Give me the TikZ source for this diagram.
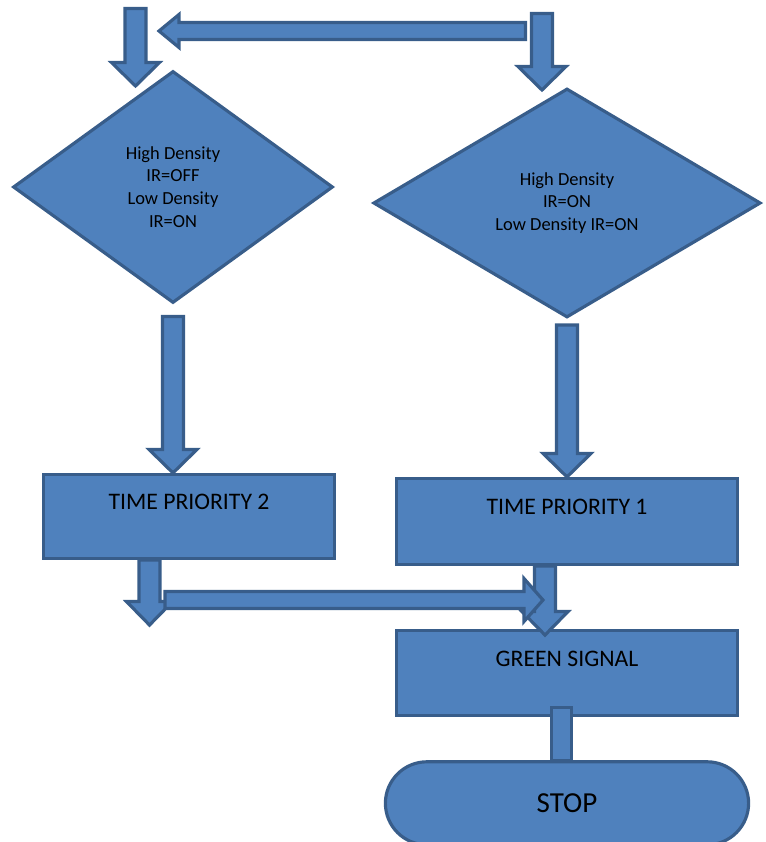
\documentclass[tikz,border=0pt]{standalone}
\usepackage{fontspec}
\setmainfont{Carlito}
\usepackage{xcolor}
\usepackage{tikz}
\usetikzlibrary{shapes.geometric, shapes.misc, calc, positioning}

\definecolor{boxfill}{HTML}{4F81BD}
\definecolor{boxline}{HTML}{385D8A}

% block arrow: shaft half width, head half width, head length, tail, tip
\newcommand{\fatarrow}[5]{%
    \draw[fat] ($(#4)!#1!90:(#5)$) -- ($(#5)!#3!(#4)!#1!90:(#5)$)
        -- ($(#5)!#3!(#4)!#2!90:(#5)$) -- (#5)
        -- ($(#5)!#3!(#4)!#2!-90:(#5)$) -- ($(#5)!#3!(#4)!#1!-90:(#5)$)
        -- ($(#4)!#1!-90:(#5)$) -- cycle;}

\begin{document}
\begin{tikzpicture}[x=0.02cm, y=-0.02cm, font=\fontsize{10.5}{13}\selectfont,
    fat/.style={fill=boxfill, draw=boxline, line width=1.8pt},
    decide/.style={diamond, fill=boxfill, draw=boxline, line width=1.8pt, align=center, inner sep=0pt},
    stepbox/.style={rectangle, fill=boxfill, draw=boxline, line width=1.8pt, text height=0.33cm, text depth=0.6cm, font=\fontsize{13.5}{16}\selectfont},
    endbox/.style={rounded rectangle, fill=boxfill, draw=boxline, line width=1.8pt, minimum width=7.5cm, minimum height=1.66cm, font=\fontsize{16.5}{19}\selectfont}]
    \useasboundingbox (0,0) rectangle (765,842);

    \node[decide, minimum width=6.4cm, minimum height=4.64cm] (low) at (173,187) {High Density\\IR=OFF\\Low Density\\IR=ON};
    \node[decide, minimum width=7.75cm, minimum height=4.58cm] (high) at (567,203) {High Density\\IR=ON\\Low Density IR=ON};
    \node[stepbox, minimum width=5.82cm, minimum height=1.68cm] (tp2) at (189,516.5) {TIME PRIORITY 2};
    \node[stepbox, minimum width=6.82cm, minimum height=1.72cm] (tp1) at (567,521.5) {TIME PRIORITY 1};
    \node[stepbox, minimum width=6.82cm, minimum height=1.7cm, below=1.26cm of tp1] (green) {GREEN SIGNAL};
    \node[endbox, below=0.86cm of green] (stop) {STOP};

    % free ends of the arrows
    \coordinate (in2) at (135.5,8.5);
    \coordinate (to2) at (135.5,86);
    \coordinate (back) at (525.5,31);
    \coordinate (loop) at (159,31);
    \coordinate (in1) at (542,13.5);
    \coordinate (to1) at (542,90);
    \coordinate (lowout) at ([yshift=-0.24cm]low.south);
    \coordinate (highout) at ([yshift=-0.12cm]high.south);
    \coordinate (tp2out) at ([xshift=-0.79cm]tp2.south);
    \coordinate (drop) at ([xshift=-0.79cm,yshift=-1.3cm]tp2.south);
    \coordinate (link) at (165,600);
    \coordinate (merge) at (543,600);
    \coordinate (tp1out) at ([xshift=-0.44cm]tp1.south);
    \coordinate (greenin) at ([xshift=-0.44cm,yshift=-0.12cm]green.north);

    \fatarrow{0.21cm}{0.48cm}{0.47cm}{in2}{to2}
    \fatarrow{0.17cm}{0.33cm}{0.4cm}{back}{loop}
    \fatarrow{0.21cm}{0.48cm}{0.47cm}{in1}{to1}
    \fatarrow{0.21cm}{0.48cm}{0.47cm}{lowout}{low.south |- tp2.north}
    \fatarrow{0.21cm}{0.48cm}{0.47cm}{highout}{high.south |- tp1.north}
    \fatarrow{0.21cm}{0.46cm}{0.47cm}{tp2out}{drop}
    \fatarrow{0.21cm}{0.46cm}{0.47cm}{tp1out}{greenin}
    \fatarrow{0.17cm}{0.43cm}{0.38cm}{link}{merge}
    \draw[fat] ([xshift=-0.31cm,yshift=0.2cm]green.south) rectangle ([xshift=0.09cm]stop.north);
\end{tikzpicture}
\end{document}
